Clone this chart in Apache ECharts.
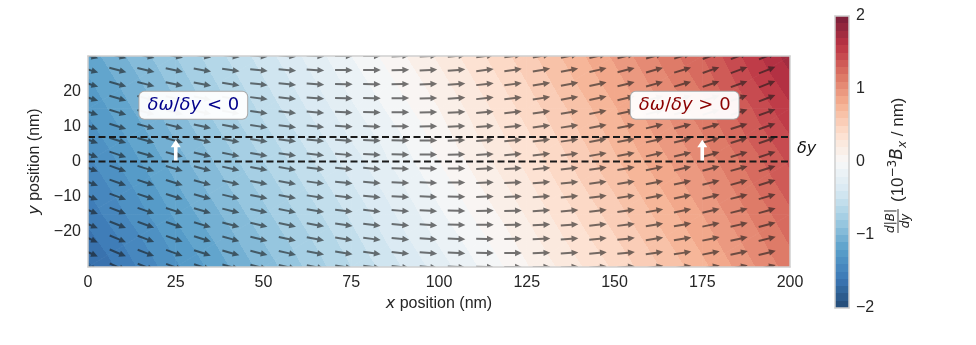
<!DOCTYPE html>
<html><head><meta charset="utf-8">
<script src="https://cdn.jsdelivr.net/npm/echarts@6/dist/echarts.min.js"></script>
<style>html,body{margin:0;padding:0;background:#fff}#c{width:976px;height:345px}</style>
</head><body><div id="c"></div>
<script>
// ---- field dB/dy (10^-3 Bx / nm) read at grid nodes ----
const fieldX = [0, 25, 50, 75, 100, 125, 150, 175, 200];
const fieldY = [30, 15, 0, -15, -30];
const fieldV = [
  [-1.15, -0.80, -0.45, -0.10,  0.22,  0.56,  0.92,  1.30,  1.75],
  [-1.28, -0.92, -0.57, -0.22,  0.10,  0.44,  0.79,  1.16,  1.58],
  [-1.42, -1.05, -0.70, -0.35,  0.00,  0.33,  0.68,  1.03,  1.42],
  [-1.56, -1.18, -0.83, -0.48, -0.12,  0.21,  0.55,  0.90,  1.28],
  [-1.72, -1.32, -0.96, -0.60, -0.25,  0.09,  0.42,  0.77,  1.15]
];
// ---- quiver arrows ----
const arrowX = [0.5, 8.5, 16.5, 24.6, 32.6, 40.7, 48.7, 56.8, 64.8, 72.9, 80.9, 89.0, 97.0,
                105.0, 113.1, 121.1, 129.2, 137.2, 145.3, 153.3, 161.4, 169.4, 177.5, 185.5, 193.5];
const arrowY = [30, 26, 22, 18, 14, 10, 6, 2, -2, -6, -10, -14, -18, -22, -26, -30];
const arrowColAngle = [-20, -19, -17, -16, -14, -12, -10, -9, -7, -5, -4, -2, -1,
                       1, 3, 4, 6, 7, 9, 10, 12, 13, 15, 16, 18];
const arrowRowOffset = [4.5, 4, 3.5, 3, 2, 1.5, 1, 0.5, -0.5, -1, -1.5, -2, -3, -3.5, -4, -4.5];
// ---- annotations ----
const dashedY = [0, 7];
const upArrows = [[25, 0.3, 6.2], [175, 0.3, 6.2]];
const boxLabels = [
  {x: 30, y: 16, rel: ' < 0', color: '#00008b'},
  {x: 170, y: 16, rel: ' > 0', color: '#8b0000'}
];
const deltaYLabel = {x: 202, y: 3.6, text: 'δy'};
// ---- axes ----
const X_MIN = 0, X_MAX = 200, X_STEP = 25;
const Y_MIN = -30, Y_MAX = 30, Y_STEP = 10;
const CB_MIN = -2, CB_MAX = 2, CB_TICK = 1, CB_STEP = 0.1;

// ---- colormap (RdBu_r, drawn with alpha over white) ----
const RDBU_R = [[5,48,97],[33,102,172],[67,147,195],[146,197,222],[209,229,240],[247,247,247],
                [253,219,199],[244,165,130],[214,96,77],[178,24,43],[103,0,31]];
const FILL_ALPHA = 0.88;
function cmap(t) {
  t = Math.max(0, Math.min(1, t));
  const s = t * 10, i = Math.min(9, Math.floor(s)), f = s - i;
  const a = RDBU_R[i], b = RDBU_R[i + 1];
  const c = [0,1,2].map(k => Math.round((a[k] + (b[k] - a[k]) * f) * FILL_ALPHA + 255 * (1 - FILL_ALPHA)));
  return 'rgb(' + c.join(',') + ')';
}
const NB = Math.round((CB_MAX - CB_MIN) / CB_STEP);
function bandColor(v) {
  let k = Math.floor((v - CB_MIN) / CB_STEP + 1e-9);
  k = Math.max(0, Math.min(NB - 1, k));
  const mid = CB_MIN + (k + 0.5) * CB_STEP;
  return cmap((mid - CB_MIN) / (CB_MAX - CB_MIN));
}
function bandStops(vmin, vmax) {
  const stops = [{offset: 0, color: bandColor(vmin + 1e-7)}];
  const span = vmax - vmin;
  for (let k = 1; k < NB; k++) {
    const L = CB_MIN + k * CB_STEP;
    if (L > vmin && L < vmax) {
      const t = (L - vmin) / span;
      stops.push({offset: t, color: bandColor(L - 1e-6)});
      stops.push({offset: t, color: bandColor(L + 1e-6)});
    }
  }
  stops.push({offset: 1, color: bandColor(vmax - 1e-7)});
  return stops;
}
function triFill(P, V) {
  const [p1, p2, p3] = P, [v1, v2, v3] = V;
  const a = p2[0]-p1[0], b = p2[1]-p1[1], c = p3[0]-p1[0], d = p3[1]-p1[1];
  const r1 = v2 - v1, r2 = v3 - v1, det = a*d - b*c;
  const gx = (r1*d - r2*b) / det, gy = (a*r2 - c*r1) / det;
  const gm = Math.hypot(gx, gy);
  const vmin = Math.min(v1, v2, v3), vmax = Math.max(v1, v2, v3);
  if (!(gm > 1e-9) || vmax - vmin < 1e-9) return bandColor(v1);
  const ux = gx / gm, uy = gy / gm;
  return {
    type: 'linear', global: true,
    x: p1[0] + ux * (vmin - v1) / gm, y: p1[1] + uy * (vmin - v1) / gm,
    x2: p1[0] + ux * (vmax - v1) / gm, y2: p1[1] + uy * (vmax - v1) / gm,
    colorStops: bandStops(vmin, vmax)
  };
}
function triangle(P, V) {
  const f = triFill(P, V);
  return {type: 'polygon', shape: {points: P}, style: {fill: f, stroke: f, lineWidth: 0.8}};
}

// ---- series data built from arrays ----
const fieldData = [];
for (let j = 0; j < fieldY.length - 1; j++)
  for (let i = 0; i < fieldX.length - 1; i++)
    fieldData.push([fieldX[i], fieldX[i+1], fieldY[j], fieldY[j+1],
                    fieldV[j][i], fieldV[j][i+1], fieldV[j+1][i], fieldV[j+1][i+1]]);
const arrowData = [];
arrowY.forEach((y, j) => arrowX.forEach((x, i) => arrowData.push([x, y, arrowColAngle[i] + arrowRowOffset[j]])));

const MINUS = v => (v < 0 ? '\u2212' + (-v) : String(v));
const TXT = '#262626', BORDER = '#cfcfcf';
const SANS = 'Liberation Sans', MATH = 'DejaVu Sans';

const ARW = [[-8.8,-1.0],[2,-1.0],[2,-3.2],[8.8,0],[2,3.2],[2,1.0],[-8.8,1.0]];

function borderAxis(extra) {
  return Object.assign({
    type: 'value', z: 10, axisLine: {show: true, onZero: false, lineStyle: {color: BORDER, width: 1.5}},
    axisTick: {show: false}, axisLabel: {show: false}, splitLine: {show: false}
  }, extra);
}

const option = {
  animation: false,
  backgroundColor: '#fff',
  grid: [
    {left: 88, width: 702, top: 56, height: 211},
    {left: 835, width: 14, top: 16, height: 292}
  ],
  xAxis: [
    borderAxis({gridIndex: 0, min: X_MIN, max: X_MAX, interval: X_STEP, position: 'bottom',
      axisLabel: {show: true, margin: 8, fontSize: 16, fontFamily: SANS, color: TXT, formatter: MINUS},
      name: '{i|x} position (nm)', nameLocation: 'middle', nameGap: 25,
      nameTextStyle: {fontSize: 16, fontFamily: SANS, color: TXT,
        rich: {i: {fontSize: 16, fontFamily: MATH, fontStyle: 'italic', color: TXT}}}}),
    borderAxis({gridIndex: 0, min: X_MIN, max: X_MAX, position: 'top'}),
    borderAxis({gridIndex: 1, min: 0, max: 1, position: 'bottom'}),
    borderAxis({gridIndex: 1, min: 0, max: 1, position: 'top'})
  ],
  yAxis: [
    borderAxis({gridIndex: 0, min: Y_MIN, max: Y_MAX, interval: Y_STEP, position: 'left',
      axisLabel: {show: true, margin: 7, fontSize: 16, fontFamily: SANS, color: TXT, formatter: MINUS,
        showMinLabel: false, showMaxLabel: false},
      name: '{i|y} position (nm)', nameLocation: 'middle', nameGap: 44,
      nameTextStyle: {fontSize: 16, fontFamily: SANS, color: TXT,
        rich: {i: {fontSize: 16, fontFamily: MATH, fontStyle: 'italic', color: TXT}}}}),
    borderAxis({gridIndex: 0, min: Y_MIN, max: Y_MAX, position: 'right'}),
    borderAxis({gridIndex: 1, min: CB_MIN, max: CB_MAX, interval: CB_TICK, position: 'right',
      axisLabel: {show: true, margin: 7, fontSize: 16, fontFamily: SANS, color: TXT, formatter: MINUS}}),
    borderAxis({gridIndex: 1, min: CB_MIN, max: CB_MAX, position: 'left'})
  ],
  series: [
    { // field
      type: 'custom', xAxisIndex: 0, yAxisIndex: 0, z: 1, clip: true,
      data: fieldData, encode: {x: [0, 1], y: [2, 3]},
      renderItem(params, api) {
        const x0 = api.value(0), x1 = api.value(1), y0 = api.value(2), y1 = api.value(3);
        const vTL = api.value(4), vTR = api.value(5), vBL = api.value(6), vBR = api.value(7);
        const TL = api.coord([x0, y0]), TR = api.coord([x1, y0]), BL = api.coord([x0, y1]), BR = api.coord([x1, y1]);
        return {type: 'group', children: [
          triangle([TL, TR, BL], [vTL, vTR, vBL]),
          triangle([TR, BR, BL], [vTR, vBR, vBL])
        ]};
      }
    },
    { // quiver
      type: 'custom', xAxisIndex: 0, yAxisIndex: 0, z: 2, clip: true,
      data: arrowData, encode: {x: 0, y: 1},
      renderItem(params, api) {
        const c = api.coord([api.value(0), api.value(1)]);
        const th = api.value(2) * Math.PI / 180;
        const dx = Math.cos(th), dy = -Math.sin(th), nx = Math.sin(th), ny = Math.cos(th);
        const pts = ARW.map(p => [c[0] + p[0]*dx + p[1]*nx, c[1] + p[0]*dy + p[1]*ny]);
        return {type: 'polygon', shape: {points: pts}, style: {fill: 'rgba(25,25,25,0.6)'}};
      }
    },
    ...dashedY.map(y => ({
      type: 'line', xAxisIndex: 0, yAxisIndex: 0, z: 3, symbol: 'none', silent: true,
      data: [[X_MIN, y], [X_MAX, y]],
      lineStyle: {color: '#1a1a1a', width: 2, type: [7, 3.5]}
    })),
    { // white arrows
      type: 'custom', xAxisIndex: 0, yAxisIndex: 0, z: 4,
      data: upArrows, encode: {x: 0, y: [1, 2]},
      renderItem(params, api) {
        const p0 = api.coord([api.value(0), api.value(1)]), p1 = api.coord([api.value(0), api.value(2)]);
        const x = p0[0], hb = p1[1] + 7.5;
        return {type: 'polygon', shape: {points: [[x-1.8, p0[1]], [x-1.8, hb], [x-5, hb], [x, p1[1]],
          [x+5, hb], [x+1.8, hb], [x+1.8, p0[1]]]}, style: {fill: '#ffffff'}};
      }
    },
    { // boxed labels
      type: 'custom', xAxisIndex: 0, yAxisIndex: 0, z: 5,
      data: boxLabels.map(b => [b.x, b.y]), encode: {x: 0, y: 1},
      renderItem(params, api) {
        const b = boxLabels[params.dataIndex];
        const p = api.coord([api.value(0), api.value(1)]);
        return {type: 'text', x: p[0], y: p[1], style: {
          text: '{i|δω}{n|/}{i|δy}{n|' + b.rel + '}',
          align: 'center', verticalAlign: 'middle',
          backgroundColor: 'rgba(255,255,255,0.95)', borderColor: '#a8a8a8', borderWidth: 1,
          borderRadius: 5, padding: [5, 8, 4, 8],
          rich: {
            i: {fontFamily: MATH, fontStyle: 'italic', fontSize: 18, fill: b.color, color: b.color},
            n: {fontFamily: MATH, fontSize: 18, fill: b.color, color: b.color}
          }
        }};
      }
    },
    { // δy label
      type: 'custom', xAxisIndex: 0, yAxisIndex: 0, z: 5, clip: false,
      data: [[deltaYLabel.x, deltaYLabel.y]], encode: {x: 0, y: 1},
      renderItem(params, api) {
        const p = api.coord([api.value(0), api.value(1)]);
        return {type: 'text', x: p[0], y: p[1], style: {text: deltaYLabel.text, align: 'left',
          verticalAlign: 'middle', fontFamily: MATH, fontStyle: 'italic', fontSize: 16, fill: '#111'}};
      }
    },
    { // colorbar
      type: 'custom', xAxisIndex: 2, yAxisIndex: 2, z: 1,
      data: [[0, 1, CB_MIN, CB_MAX]], encode: {x: [0, 1], y: [2, 3]},
      renderItem(params, api) {
        const a = api.coord([api.value(0), api.value(2)]), b = api.coord([api.value(1), api.value(3)]);
        return {type: 'rect', shape: {x: a[0], y: b[1], width: b[0] - a[0], height: a[1] - b[1]},
          style: {fill: {type: 'linear', global: true, x: 0, y: a[1], x2: 0, y2: b[1],
            colorStops: bandStops(api.value(2), api.value(3))}}};
      }
    }
  ]
};

// colorbar label (rotated, built from measured text pieces)
const mctx = document.createElement('canvas').getContext('2d');
function tw(txt, font) { mctx.font = font; return mctx.measureText(txt).width; }
const BIG = 17, SMALL = 12;
const cbPieces = [
  {t: '(10', size: BIG, style: 'normal', fam: SANS, dy: 0},
  {t: '\u22123', size: SMALL, style: 'normal', fam: MATH, dy: -5.5},
  {t: 'B', size: BIG, style: 'italic', fam: MATH, dy: 0},
  {t: 'x', size: SMALL, style: 'italic', fam: MATH, dy: 4.5},
  {t: ' / nm)', size: BIG, style: 'normal', fam: SANS, dy: 0}
];
const children = [
  {type: 'text', x: 13, y: -1.5, style: {text: 'd|B|', fontFamily: MATH, fontStyle: 'italic', fontSize: SMALL,
    fill: TXT, align: 'center', verticalAlign: 'bottom'}},
  {type: 'line', shape: {x1: 1, y1: 0, x2: 25, y2: 0}, style: {stroke: TXT, lineWidth: 0.9}},
  {type: 'text', x: 13, y: 1.5, style: {text: 'dy', fontFamily: MATH, fontStyle: 'italic', fontSize: SMALL,
    fill: TXT, align: 'center', verticalAlign: 'top'}}
];
let cx = 32;
cbPieces.forEach(p => {
  children.push({type: 'text', x: cx, y: p.dy, style: {text: p.t, fontFamily: p.fam, fontStyle: p.style,
    fontSize: p.size, fill: TXT, align: 'left', verticalAlign: 'middle'}});
  cx += tw(p.t, (p.style === 'italic' ? 'italic ' : '') + p.size + 'px "' + p.fam + '"');
});
option.graphic = [{type: 'group', x: 898, y: 234, rotation: Math.PI / 2, children}];

const chart = echarts.init(document.getElementById('c'));
chart.setOption(option);
</script>
</body></html>
